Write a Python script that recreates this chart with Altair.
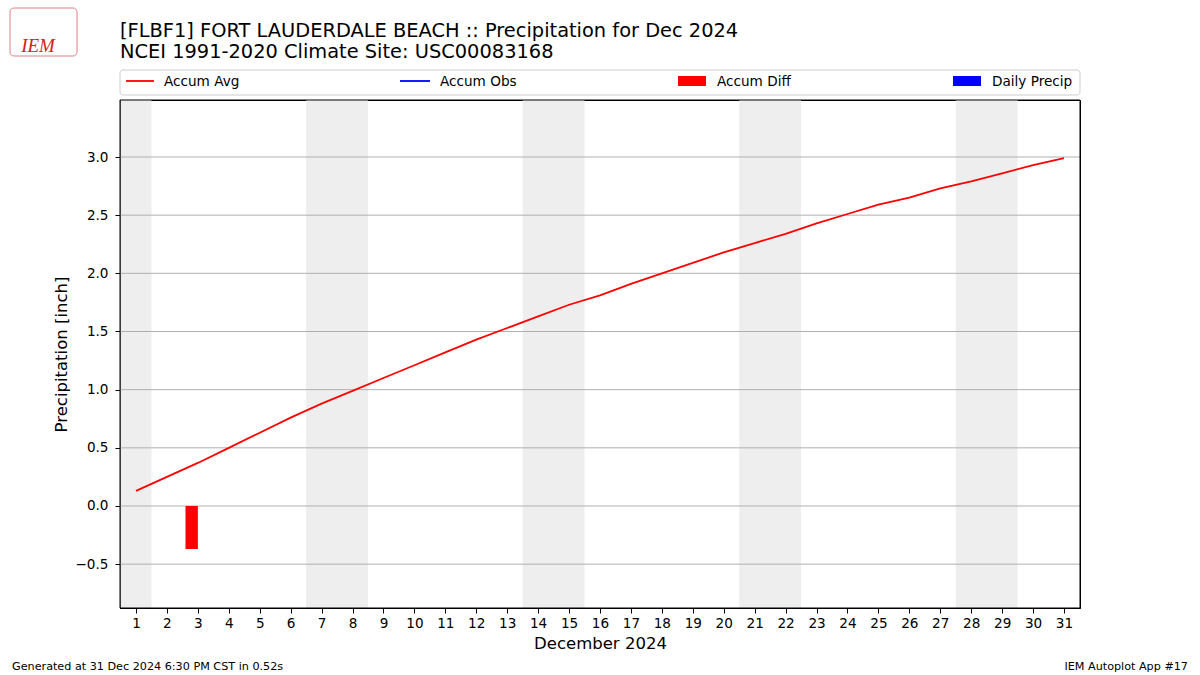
import altair as alt
import pandas as pd

# ---------------- data ----------------
days = list(range(1, 32))
accum_avg = [0.13, 0.25, 0.37, 0.50, 0.63, 0.76, 0.88, 0.99, 1.10, 1.21,
             1.32, 1.43, 1.53, 1.63, 1.73, 1.81, 1.91, 2.00, 2.09, 2.18,
             2.26, 2.34, 2.43, 2.51, 2.59, 2.65, 2.73, 2.79, 2.86, 2.93, 2.99]
diff_days = [3]
accum_diff = [-0.37]
weekend_days = [1, 7, 8, 14, 15, 21, 22, 28, 29]
y_ticks = [-0.5, 0.0, 0.5, 1.0, 1.5, 2.0, 2.5, 3.0]
x_ticks = days

title1 = "[FLBF1] FORT LAUDERDALE BEACH :: Precipitation for Dec 2024"
title2 = "NCEI 1991-2020 Climate Site: USC00083168"
footer_left = "Generated at 31 Dec 2024 6:30 PM CST in 0.52s"
footer_right = "IEM Autoplot App #17"
legend_labels = ["Accum Avg", "Accum Obs", "Accum Diff", "Daily Precip"]

W, H = 960, 508
FONT = "DejaVu Sans"

# group consecutive weekend days into shaded spans
spans = []
for d in weekend_days:
    if spans and spans[-1][1] == d - 1:
        spans[-1][1] = d
    else:
        spans.append([d, d])
wk_df = pd.DataFrame({"first": [s[0] for s in spans], "last": [s[1] for s in spans]})

xscale = alt.Scale(domain=[0.483, 31.517], nice=False, zero=False)
yscale = alt.Scale(domain=[-0.877, 3.49], nice=False, zero=False)

xaxis = alt.Axis(values=x_ticks, title="December 2024", grid=False,
                 format="d", tickSize=5, labelPadding=3,
                 titlePadding=6, labelFlush=False)
yaxis = alt.Axis(values=y_ticks, title="Precipitation [inch]", grid=False,
                 labelExpr="replace(format(datum.value, '.1f'), '-', '\u2212')",
                 tickSize=5, labelPadding=7, titlePadding=5)

line_df = pd.DataFrame({"day": days, "avg": accum_avg})
diff_df = pd.DataFrame({"day": diff_days, "diff": accum_diff})
grid_df = pd.DataFrame({"v": y_ticks})
one = alt.Data(values=[{"a": 1}])

weekends = alt.Chart(wk_df).transform_calculate(
    s="datum.first - 0.5", e="datum.last + 0.5"
).mark_rect(color="#eeeeee", clip=True).encode(
    x=alt.X("s:Q", scale=xscale, axis=xaxis),
    x2="e:Q",
)

grid = alt.Chart(grid_df).mark_rule(color="#b0b0b0", strokeWidth=1).encode(
    y=alt.Y("v:Q", scale=yscale, axis=yaxis)
)

bars = alt.Chart(diff_df).transform_calculate(
    s="datum.day - 0.4", z="0"
).mark_rect(color="#ff0000").encode(
    x=alt.X("s:Q", scale=xscale, axis=xaxis),
    x2="day:Q",
    y=alt.Y("z:Q", scale=yscale, axis=yaxis),
    y2="diff:Q",
)

line = alt.Chart(line_df).mark_line(color="#ff0000", strokeWidth=1.8).encode(
    x=alt.X("day:Q", scale=xscale, axis=xaxis),
    y=alt.Y("avg:Q", scale=yscale, axis=yaxis),
)


def txt(text, x, y, size, align="left", color="black", **kw):
    return alt.Chart(one).mark_text(
        text=text, align=align, baseline="middle", fontSize=size,
        font=kw.pop("font", FONT), color=color, **kw
    ).encode(x=alt.value(x), y=alt.value(y))


def box(x, x2, y, y2, **kw):
    return alt.Chart(one).mark_rect(**kw).encode(
        x=alt.value(x), x2=alt.value(x2), y=alt.value(y), y2=alt.value(y2))


def hline(x, x2, y, color):
    return alt.Chart(one).mark_rule(color=color, strokeWidth=1.8).encode(
        x=alt.value(x), x2=alt.value(x2), y=alt.value(y))


deco = [
    box(0, W, 0, H, fill="white", fillOpacity=0, stroke="black", strokeWidth=1),
    txt(title1, 0, -69, 19.4),
    txt(title2, 0, -48, 19.4),
    box(0, W, -30, -5, fill="white", stroke="#cccccc", strokeWidth=1,
        cornerRadius=3),
    hline(6, 34, -19, "#ff0000"),
    txt(legend_labels[0], 44, -18, 13.6),
    hline(280, 310, -19, "#0000ff"),
    txt(legend_labels[1], 320, -18, 13.6),
    box(558, 586, -24, -14, fill="#ff0000"),
    txt(legend_labels[2], 597, -18, 13.6),
    box(833, 861, -24, -14, fill="#0000ff"),
    txt(legend_labels[3], 872, -18, 13.6),
    txt(footer_left, -108, 567, 11.2),
    txt(footer_right, 1068, 567, 11.2, align="right"),
    box(-110, -43, -92, -44, fill="white", stroke="#e08080", strokeWidth=1,
        cornerRadius=4),
    txt("IEM", -82, -54, 19, align="center", color="#d42020",
        font="Liberation Serif", fontStyle="italic"),
]

chart = alt.layer(weekends, grid, bars, line, *deco).properties(
    width=W, height=H,
    autosize=alt.AutoSizeParams(type="none"),
    padding={"left": 120, "top": 100, "right": 120, "bottom": 67},
    background="white",
).configure_view(stroke="black", strokeWidth=1).configure_axis(
    domainColor="black", tickColor="black", labelColor="black",
    titleColor="black", labelFont=FONT, titleFont=FONT,
    labelFontSize=13.6, titleFontSize=16.5, titleFontWeight="normal",
)

chart.save("out.html", embed_options={"renderer": "svg", "actions": False})
